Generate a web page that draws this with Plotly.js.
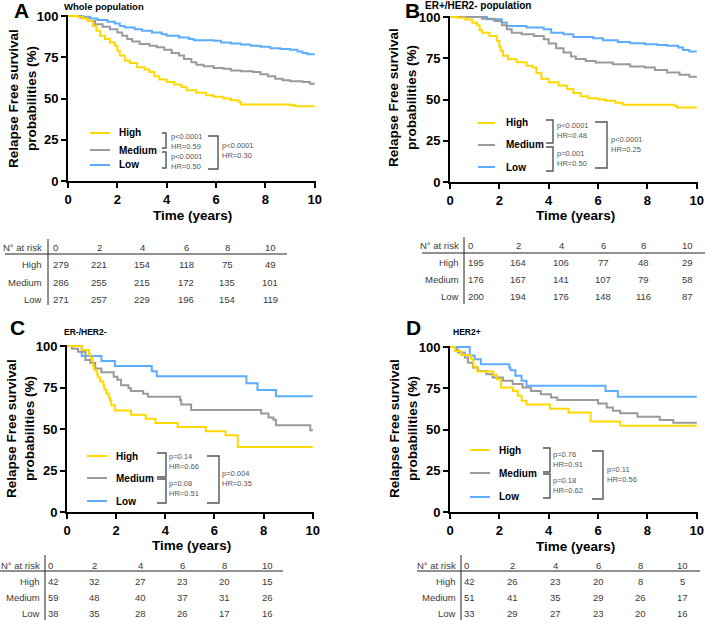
<!DOCTYPE html>
<html>
<head>
<meta charset="utf-8">
<script src="https://cdn.plot.ly/plotly-3.0.1.min.js"></script>
<style>html,body{margin:0;padding:0;background:#fff;}#chart{width:705px;height:623px;}</style>
</head>
<body>
<div id="chart"></div>
<script>
// ---------------- DATA ----------------
const groups = ['High', 'Medium', 'Low'];
const riskTimes = ['0', '2', '4', '6', '8', '10'];
const panelLetters = ['A', 'B', 'C', 'D'];
const panelSubtitles = ['Whole population', 'ER+/HER2- population', 'ER-/HER2-', 'HER2+'];

// Panel A - whole population
const A_high_t = [0,0.4,0.6,0.8,1.0,1.15,1.3,1.5,1.7,1.9,2.0,2.1,2.3,2.5,2.8,3.1,3.3,3.5,3.7,4.0,4.3,4.6,4.8,5.2,5.6,5.9,6.3,6.6,6.9,7.0,9.0,9.2,10];
const A_high_s = [100,99.5,98.5,97,94,91,88,86,84,82,79,76,73,71.5,69,67.5,66,63.5,61.5,60,58.5,57,55,53.5,52,51,50,49,48,46.3,45.9,45.3,45.3];
const A_med_t = [0,0.5,0.8,1.1,1.4,1.7,2.0,2.2,2.4,2.6,2.9,3.3,3.6,3.9,4.2,4.5,4.7,5.0,5.2,5.5,5.9,6.3,6.6,7.0,7.5,7.8,8.1,8.4,8.7,9.0,9.5,9.8,10];
const A_med_s = [100,99,97,95,93.5,92,90,88,86,84.5,83,82,81,79.5,77.5,76,74,72,70.5,69.5,68.5,68,67,66.5,66,64.7,63.5,62,61,60.5,60,59,59];
const A_low_t = [0,0.6,0.9,1.2,1.6,1.9,2.1,2.3,2.7,3.0,3.4,3.8,4.0,4.5,4.9,5.1,5.9,6.2,6.6,7.0,7.4,7.8,8.2,8.6,9.0,9.3,9.5,9.7,10];
const A_low_s = [100,99.5,98.5,97.5,96.5,95.5,94,93,92,91,90,89,88,87,86,85.3,85,84,83.3,82.7,82,81.3,80.5,80,79.5,78.5,77.5,76.8,76.8];

// Panel B - ER+/HER2-
const B_high_t = [0,0.3,0.6,0.9,1.1,1.2,1.3,1.6,1.9,2.0,2.05,2.15,2.35,2.7,3.1,3.35,3.5,3.7,4.0,4.4,4.75,5.0,5.3,5.6,6.0,6.3,6.7,7.0,9.1,9.2,10];
const B_high_s = [100,99.5,98.5,96.5,95,92,90.5,88.5,85.5,82,79.5,76.5,74.4,72.5,70.5,69.4,66,62.5,60.5,58.5,56.3,54,52,50.7,50,49.3,48,46.8,46.2,45.2,45.2];
const B_med_t = [0,1.3,1.8,2.1,2.3,2.5,2.9,3.4,3.8,4.0,4.3,4.6,4.9,5.1,5.5,5.9,6.6,7.3,7.9,8.3,8.8,9.3,9.7,10];
const B_med_s = [100,99,97.6,95,92.5,90.5,89.5,88.5,86.5,84,81,78.5,76,74.5,73.4,72.4,71.4,70,69.4,67.8,66.4,65,63.8,63.8];
const B_low_t = [0,1.5,2.1,2.3,3.1,3.8,4.1,4.6,5.0,5.8,6.2,6.8,7.3,7.9,8.4,8.8,9.25,9.45,9.7,10];
const B_low_s = [100,98.6,96.6,94.6,93.6,92.6,90.5,89.5,87.9,87.1,85.9,84.9,84.1,83.5,83.1,82.5,81.5,80,79.1,79.1];

// Panel C - ER-/HER2-
const C_high_t = [0,0.6,0.9,0.95,1.05,1.1,1.2,1.25,1.35,1.48,1.52,1.6,1.7,1.75,1.8,1.95,2.6,3.2,3.6,4.5,5.65,6.45,6.95,10];
const C_high_s = [100,97.6,95.2,92.9,88.1,85.7,83.3,81,78.6,76.2,73.8,71.4,69,66.7,64.3,61.2,58.6,56.2,53.6,51.2,48.7,46.2,39.1,39.1];
const C_med_t = [0,0.2,0.45,0.75,0.95,1.15,1.4,1.9,2.05,2.2,2.5,2.6,3.1,3.3,4.6,4.65,5.05,7.9,8.2,8.4,8.5,9.9,10];
const C_med_s = [100,98.3,96.6,91.5,89.8,86.4,84.2,81.4,79.7,76.3,74.6,72.9,71.2,69.5,67.5,64.8,61.4,59.3,57,55.5,52.3,49.3,49.3];
const C_low_t = [0,0.6,1.4,1.95,3.45,3.65,7.3,7.75,8.5,10];
const C_low_s = [100,93.9,90.9,87.9,84.8,81.8,77.5,73.5,69.7,69.7];

// Panel D - HER2+
const D_high_t = [0,0.2,0.45,0.85,0.95,1.1,1.75,1.9,2.07,2.55,2.75,2.9,3.1,4.05,4.8,5.7,6.9,10];
const D_high_s = [100,97.6,95.2,92.9,88.1,85.2,83.2,80.5,75.5,73.4,70.4,67.4,65.2,62.6,60.3,54.8,52.2,52.2];
const D_med_t = [0,0.2,0.32,0.6,0.73,0.93,1.13,1.47,1.73,2.14,2.54,2.94,3.28,3.68,4.09,4.35,6.0,6.35,6.6,6.9,7.6,8.5,9.05,10];
const D_med_s = [100,98.6,96.6,93.6,90.5,87.5,85.5,83.5,81.5,79.5,77.5,75.5,73.4,71.4,69.4,67.8,65.8,63.4,61.4,59.8,57.7,55.7,54.1,54.1];
const D_low_t = [0,0.8,1.0,1.25,2.4,2.45,2.65,2.9,3.1,6.3,6.8,10];
const D_low_s = [100,94.9,92.6,89.5,87.5,85.9,82.5,79.5,76.5,73.4,69.8,69.8];

// Numbers at risk
const A_risk_high = [279,221,154,118,75,49];
const A_risk_med  = [286,255,215,172,135,101];
const A_risk_low  = [271,257,229,196,154,119];
const B_risk_high = [195,164,106,77,48,29];
const B_risk_med  = [176,167,141,107,79,58];
const B_risk_low  = [200,194,176,148,116,87];
const C_risk_high = [42,32,27,23,20,15];
const C_risk_med  = [59,48,40,37,31,26];
const C_risk_low  = [38,35,28,26,17,16];
const D_risk_high = [42,26,23,20,8,5];
const D_risk_med  = [51,41,35,29,26,17];
const D_risk_low  = [33,29,27,23,20,16];

// Statistics text (High vs Medium, Medium vs Low, High vs Low)
const A_stats = ['p<0.0001','HR=0.59','p<0.0001','HR=0.50','p<0.0001','HR=0.30'];
const B_stats = ['p<0.0001','HR=0.48','p=0.001','HR=0.50','p<0.0001','HR=0.25'];
const C_stats = ['p=0.14','HR=0.66','p=0.08','HR=0.51','p=0.004','HR=0.35'];
const D_stats = ['p=0.76','HR=0.91','p=0.18','HR=0.62','p=0.11','HR=0.56'];

// ---------------- LAYOUT HELPERS (pixel positions) ----------------
const W = 705, H = 623;
const X = px => px / W;
const Y = py => 1 - py / H;
const FONT = 'Liberation Sans, Arial, Helvetica, sans-serif';
const colors = ['#FFD800', '#9A9A9A', '#5CADFF'];

const curves = [
  [[A_high_t,A_high_s],[A_med_t,A_med_s],[A_low_t,A_low_s]],
  [[B_high_t,B_high_s],[B_med_t,B_med_s],[B_low_t,B_low_s]],
  [[C_high_t,C_high_s],[C_med_t,C_med_s],[C_low_t,C_low_s]],
  [[D_high_t,D_high_s],[D_med_t,D_med_s],[D_low_t,D_low_s]]
];
const risks = [
  [A_risk_high,A_risk_med,A_risk_low],
  [B_risk_high,B_risk_med,B_risk_low],
  [C_risk_high,C_risk_med,C_risk_low],
  [D_risk_high,D_risk_med,D_risk_low]
];
const stats = [A_stats,B_stats,C_stats,D_stats];

const panels = [
  { xd:[68,316], yd:[15,181], letter:[21,11], sub:[63,6,9.5], xt:[192,215], yt:[22,99],
    leg:{x0:90,x1:110,tx:118,ys:[133,150,165]},
    br:{bx:166,tx:162,b1:[133,148],b2:[152,168],Bx:218,Btx:208,B:[136,169],sx:170,sy:[141,161.5],Sx:221,Sy:150.5},
    tab:{lx:43,c0:52,cx:[99,142,186,227,270],hy:247,ry:[264,282,299],hl:[5,287,254],vl:[48,239,305]} },
  { xd:[450,698], yd:[16,182], letter:[413,11], sub:[424,5,10], xt:[575,215], yt:[403,98],
    leg:{x0:478,x1:495,tx:505,ys:[123,145,167]},
    br:{bx:553,tx:546,b1:[120,143],b2:[147,171],Bx:607,Btx:595,B:[122,168],sx:556,sy:[130.5,158],Sx:610,Sy:144},
    tab:{lx:460,c0:467,cx:[518,561,603,643,687],hy:246,ry:[262,279,296],hl:[422,705,253],vl:[464,237,304]} },
  { xd:[67,314], yd:[345,512], letter:[17,327], sub:[63,332,8.5], xt:[191,545], yt:[20,429],
    leg:{x0:87,x1:107,tx:115,ys:[456,478,501]},
    br:{bx:166,tx:157,b1:[453,477],b2:[479,503],Bx:219,Btx:207,B:[456,503],sx:168,sy:[461.5,488.5],Sx:221,Sy:478},
    tab:{lx:41,c0:47,cx:[94,140,182,224,267],hy:565,ry:[581,597,613],hl:[0,283,571],vl:[45,555,620]} },
  { xd:[450,698], yd:[346,512], letter:[414,327], sub:[452,332,8.5], xt:[575,546], yt:[403,429],
    leg:{x0:470,x1:490,tx:498,ys:[450,473,497]},
    br:{bx:550,tx:543,b1:[448,472],b2:[474,498],Bx:603,Btx:592,B:[451,499],sx:552,sy:[459,485.5],Sx:606,Sy:474},
    tab:{lx:457,c0:463,cx:[512,555,598,640,682],hy:565,ry:[581,597,613],hl:[417,700,571],vl:[461,555,620]} }
];

const data = [];
const shapes = [];
const annotations = [];
const layout = {
  width: W, height: H, margin: {l:0, r:0, t:0, b:0},
  paper_bgcolor: '#fff', plot_bgcolor: '#fff', showlegend: false,
  font: {family: FONT, color: '#000'}
};

function ann(x, y, text, o) {
  annotations.push(Object.assign({xref:'paper', yref:'paper', x:X(x), y:Y(y), text:text, showarrow:false,
    xanchor:'center', yanchor:'middle', borderpad:0, font:{family:FONT, size:10, color:'#000'}}, o||{}));
}
function bracket(bx, tx, y0, y1) {
  shapes.push({type:'path', xref:'paper', yref:'paper',
    path:`M ${X(tx)} ${Y(y0)} L ${X(bx)} ${Y(y0)} L ${X(bx)} ${Y(y1)} L ${X(tx)} ${Y(y1)}`,
    line:{color:'#555', width:1.4}});
}
function hline(x0, x1, y, c, w) {
  shapes.push({type:'line', xref:'paper', yref:'paper', x0:X(x0), x1:X(x1), y0:Y(y), y1:Y(y), line:{color:c, width:w}});
}
function vline(x, y0, y1, c, w) {
  shapes.push({type:'line', xref:'paper', yref:'paper', x0:X(x), x1:X(x), y0:Y(y0), y1:Y(y1), line:{color:c, width:w}});
}

panels.forEach((p, i) => {
  const n = i === 0 ? '' : String(i + 1);
  const xa = 'x' + n, ya = 'y' + n;
  layout['xaxis' + n] = {
    domain:[X(p.xd[0]), X(p.xd[1])], anchor: ya, range:[0, 10.05],
    tickvals:[0,2,4,6,8,10], ticks:'outside', ticklen:5, tickwidth:2, tickcolor:'#000',
    showline:true, linewidth:2, linecolor:'#000', showgrid:false, zeroline:false,
    tickfont:{family:FONT, size:13, color:'#000', weight:'bold'}, fixedrange:true
  };
  layout['yaxis' + n] = {
    domain:[Y(p.yd[1]), Y(p.yd[0])], anchor: xa, range:[0, 100.6],
    tickvals:[0,25,50,75,100], ticks:'outside', ticklen:5, tickwidth:2, tickcolor:'#000',
    showline:true, linewidth:2, linecolor:'#000', showgrid:false, zeroline:false,
    tickfont:{family:FONT, size:13, color:'#000', weight:'bold'}, fixedrange:true
  };
  // KM curves
  [2,1,0].forEach(g => {
    data.push({type:'scatter', mode:'lines', x:curves[i][g][0], y:curves[i][g][1],
      xaxis:xa, yaxis:ya, name:groups[g], line:{color:colors[g], width:2, shape:'hv'}, hoverinfo:'skip'});
  });
  // panel letter & subtitle
  ann(p.letter[0], p.letter[1], panelLetters[i], {font:{family:FONT, size:21, color:'#000', weight:'bold'}});
  ann(p.sub[0], p.sub[1], panelSubtitles[i], {xanchor:'left', font:{family:FONT, size:p.sub[2], color:'#000', weight:'bold'}});
  // axis titles
  ann(p.xt[0], p.xt[1], 'Time (years)', {font:{family:FONT, size:13.5, color:'#000', weight:'bold'}});
  ann(p.yt[0], p.yt[1], 'Relapse Free survival<br>probabilities (%)', {textangle:-90, font:{family:FONT, size:13.5, color:'#000', weight:'bold'}});
  // legend
  groups.forEach((g, k) => {
    hline(p.leg.x0, p.leg.x1, p.leg.ys[k], colors[k], 2);
    ann(p.leg.tx, p.leg.ys[k], g, {xanchor:'left', font:{family:FONT, size:10, color:'#000', weight:'bold'}});
  });
  // brackets and stats
  const b = p.br;
  const sf = {family:FONT, size:7.5, color:'#555'};
  bracket(b.bx, b.tx, b.b1[0], b.b1[1]);
  bracket(b.bx, b.tx, b.b2[0], b.b2[1]);
  bracket(b.Bx, b.Btx, b.B[0], b.B[1]);
  ann(b.sx, b.sy[0], stats[i][0] + '<br>' + stats[i][1], {xanchor:'left', align:'left', font:sf});
  ann(b.sx, b.sy[1], stats[i][2] + '<br>' + stats[i][3], {xanchor:'left', align:'left', font:sf});
  ann(b.Sx, b.Sy, stats[i][4] + '<br>' + stats[i][5], {xanchor:'left', align:'left', font:sf});
  // risk table
  const t = p.tab;
  const tf = {family:FONT, size:9.5, color:'#3a3a3a'};
  hline(t.hl[0], t.hl[1], t.hl[2], '#222', 1);
  vline(t.vl[0], t.vl[1], t.vl[2], '#222', 1);
  ann(t.lx, t.hy, 'N° at risk', {xanchor:'right', font:tf});
  groups.forEach((g, k) => ann(t.lx, t.ry[k], g, {xanchor:'right', font:tf}));
  riskTimes.forEach((lab, c) => {
    const cx = c === 0 ? t.c0 : t.cx[c - 1];
    const anc = c === 0 ? 'left' : 'center';
    ann(cx, t.hy, lab, {xanchor:anc, font:tf});
    for (let k = 0; k < 3; k++) ann(cx, t.ry[k], String(risks[i][k][c]), {xanchor:anc, font:tf});
  });
});

layout.shapes = shapes;
layout.annotations = annotations;
Plotly.newPlot('chart', data, layout, {staticPlot:true, displayModeBar:false});
</script>
</body>
</html>
